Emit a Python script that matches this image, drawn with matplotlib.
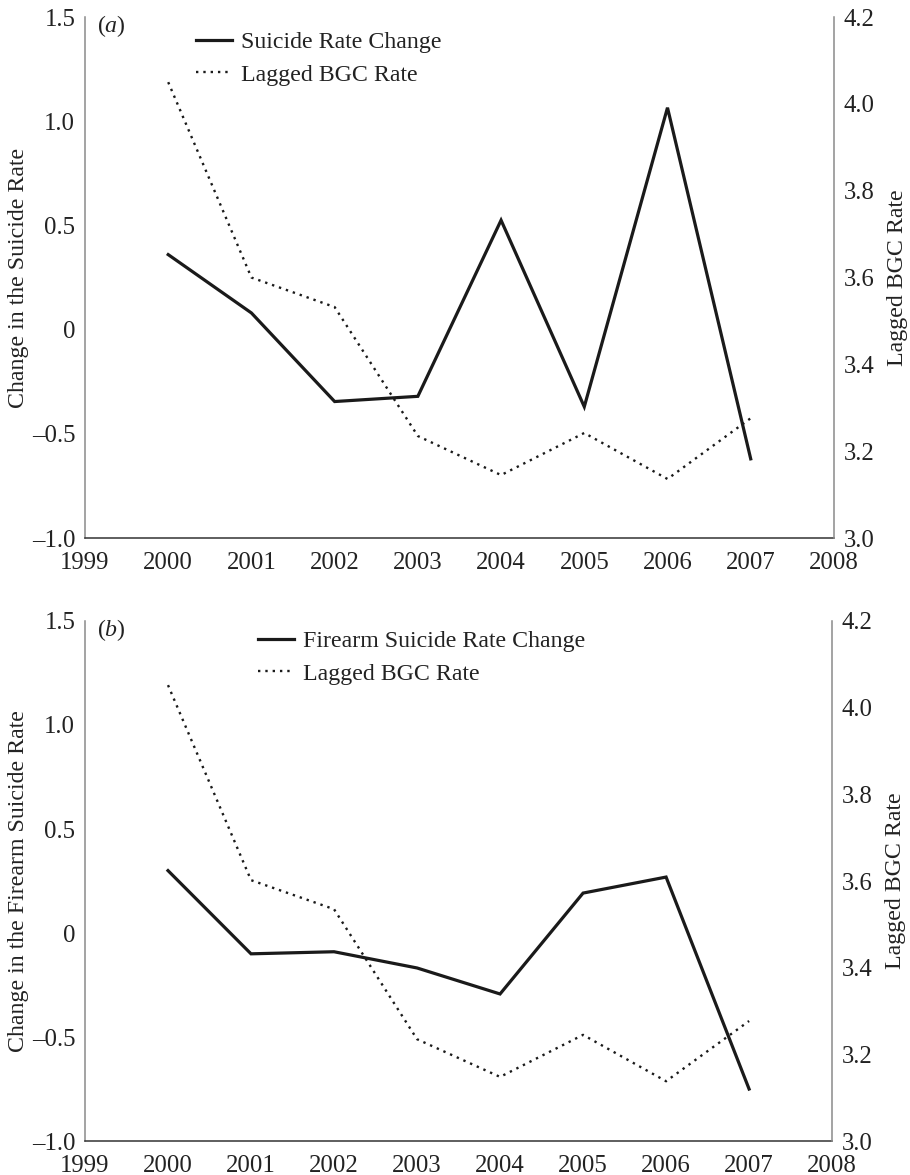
import numpy as np
import matplotlib
matplotlib.use('Agg')
import matplotlib.pyplot as plt

plt.rcParams['font.family'] = ['Liberation Serif', 'DejaVu Serif']
plt.rcParams['mathtext.fontset'] = 'custom'
plt.rcParams['mathtext.rm'] = 'Liberation Serif'
plt.rcParams['mathtext.it'] = 'Liberation Serif:italic'

years = [2000, 2001, 2002, 2003, 2004, 2005, 2006, 2007]

# panel (a)
suicide_change = [0.36, 0.08, -0.345, -0.32, 0.525, -0.37, 1.065, -0.62]
bgc_a = [4.05, 3.60, 3.532, 3.235, 3.145, 3.242, 3.136, 3.276]

# panel (b)
firearm_change = [0.30, -0.10, -0.09, -0.168, -0.293, 0.192, 0.269, -0.75]
bgc_b = [4.052, 3.602, 3.535, 3.235, 3.148, 3.245, 3.138, 3.277]

x_ticks = list(range(1999, 2009))
left_ticks = [-1.0, -0.5, 0, 0.5, 1.0, 1.5]
left_labels = ['\u20131.0', '\u20130.5', '0', '0.5', '1.0', '1.5']
right_ticks = [3.0, 3.2, 3.4, 3.6, 3.8, 4.0, 4.2]
right_labels = ['3.0', '3.2', '3.4', '3.6', '3.8', '4.0', '4.2']

FS = 17.8
LFS = 17.2
LINE = '#1a1a1a'
GREY = '#8a8a8a'
TXT = '#222222'


def drawPanel(fig, rect, tag, change, bgc, change_label, ylabel, leg_xy):
  ax = fig.add_axes(rect)
  ax2 = ax.twinx()
  l1, = ax.plot(years, change, color=LINE, lw=2.3, solid_joinstyle='miter', label=change_label)
  l2, = ax2.plot(years, bgc, color=LINE, lw=1.7, linestyle=(0, (1, 2.1)), label='Lagged BGC Rate')

  ax.set_xlim(1999, 2008)
  ax.set_ylim(-1.0, 1.5)
  ax2.set_ylim(3.0, 4.2)
  ax.set_xticks(x_ticks)
  ax.set_xticklabels([str(x) for x in x_ticks], fontsize=FS)
  ax.set_yticks(left_ticks)
  ax.set_yticklabels(left_labels, fontsize=FS)
  ax2.set_yticks(right_ticks)
  ax2.set_yticklabels(right_labels, fontsize=FS)
  ax.tick_params(axis='both', length=0, colors=TXT)
  ax.tick_params(axis='x', pad=10)
  ax.tick_params(axis='y', pad=7)
  ax2.tick_params(axis='y', length=0, pad=7, colors=TXT)

  for s in ['top', 'right']:
    ax.spines[s].set_visible(False)
  for s in ['top', 'left', 'bottom']:
    ax2.spines[s].set_visible(False)
  ax.spines['left'].set_color(GREY)
  ax.spines['left'].set_linewidth(1.1)
  ax.spines['bottom'].set_color('#333333')
  ax.spines['bottom'].set_linewidth(1.1)
  ax2.spines['right'].set_color(GREY)
  ax2.spines['right'].set_linewidth(1.1)

  ax.set_ylabel(ylabel, fontsize=LFS, labelpad=2, color=TXT)
  ax2.set_ylabel('Lagged BGC Rate', fontsize=LFS, labelpad=9, color=TXT)

  ax.text(0.016, 1.008, '($\\mathit{' + tag + '}$)', transform=ax.transAxes,
          fontsize=LFS, va='top', ha='left', color=TXT)

  leg = ax2.legend(handles=[l1, l2], loc='upper left', bbox_to_anchor=leg_xy,
                   frameon=False, fontsize=LFS, borderpad=0, borderaxespad=0,
                   handlelength=1.5, handletextpad=0.4, labelspacing=0.45)
  for t in leg.get_texts():
    t.set_color(TXT)
  return ax, ax2


fig = plt.figure(figsize=(9.1, 11.75), dpi=100)
drawPanel(fig, [0.0934, 0.5421, 0.823, 0.4434], 'a', suicide_change, bgc_a,
          'Suicide Rate Change', 'Change in the Suicide Rate', (0.148, 0.972))
drawPanel(fig, [0.0934, 0.0289, 0.821, 0.4426], 'b', firearm_change, bgc_b,
          'Firearm Suicide Rate Change', 'Change in the Firearm Suicide Rate', (0.2316, 0.982))
plt.savefig('out.png', dpi=100)
